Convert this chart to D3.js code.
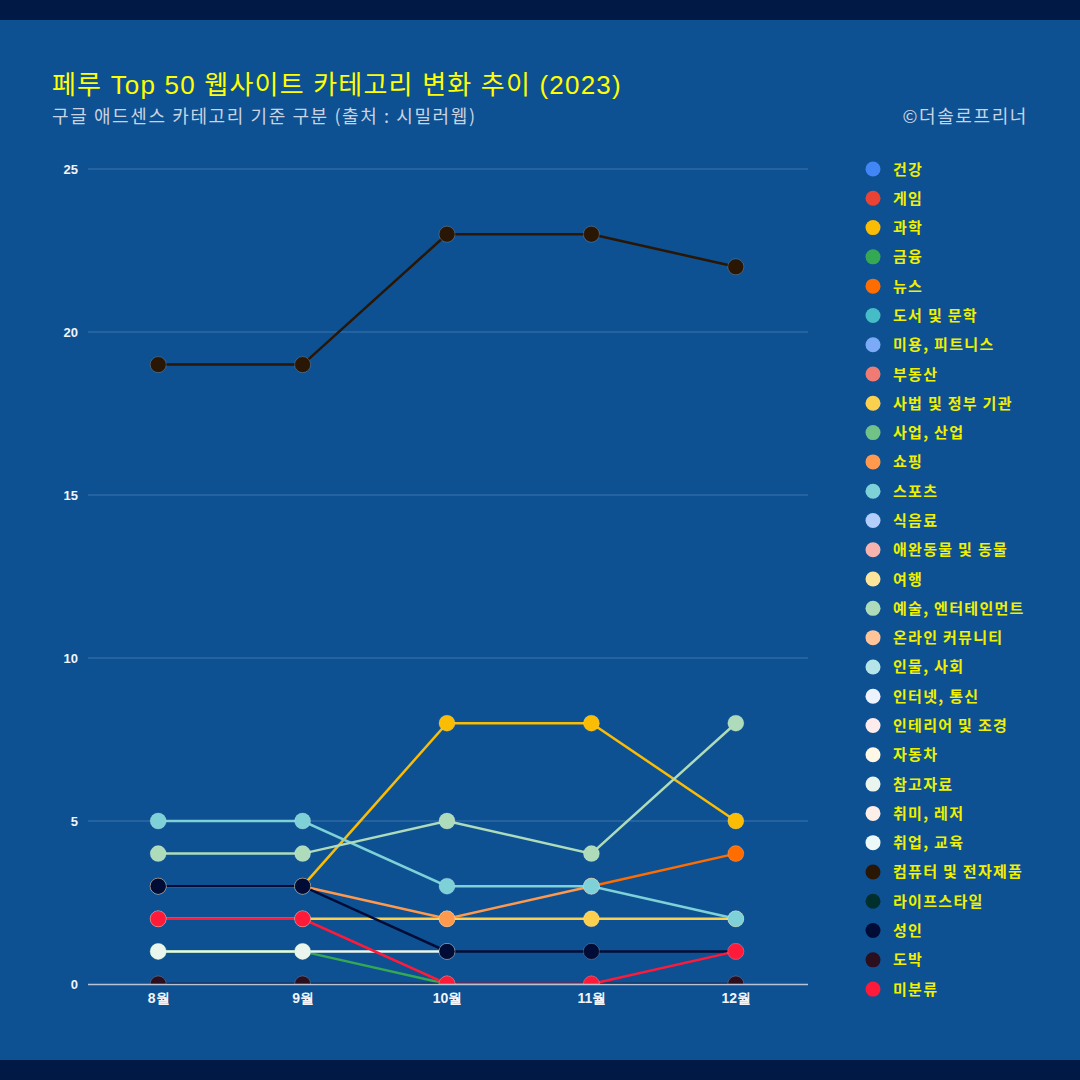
<!DOCTYPE html>
<html>
<head>
    <meta charset="utf-8">
    <script src="https://d3js.org/d3.v7.min.js"></script>
    <title>페루 Top 50 웹사이트 카테고리 변화 추이 (2023)</title>
    <style>
        body { margin: 0; background: #0d5192; }
        svg { display: block; font-family: "Noto Sans CJK KR", "Noto Sans", sans-serif; }
    </style>
</head>
<body>
    <svg id="plot" width="1080" height="1080"></svg>
    <script>
        // data
        const months = ["8월", "9월", "10월", "11월", "12월"];
        const categories = ["건강", "게임", "과학", "금융", "뉴스", "도서 및 문학", "미용, 피트니스", "부동산",
            "사법 및 정부 기관", "사업, 산업", "쇼핑", "스포츠", "식음료", "애완동물 및 동물", "여행",
            "예술, 엔터테인먼트", "온라인 커뮤니티", "인물, 사회", "인터넷, 통신", "인테리어 및 조경", "자동차",
            "참고자료", "취미, 레저", "취업, 교육", "컴퓨터 및 전자제품", "라이프스타일", "성인", "도박", "미분류"];
        const colors = ["#4285f4", "#ea4335", "#fbbc04", "#34a853", "#ff6d01", "#46bdc6", "#7baaf7", "#f07b72",
            "#fcd04f", "#71c287", "#ff994d", "#7ed1d7", "#b3cefb", "#f7b4ae", "#fde49b",
            "#aedcba", "#ffc599", "#b5e5e8", "#ecf3fe", "#fdeceb", "#fff8e6",
            "#eaf6ed", "#fdeee8", "#edf8f9", "#2a1604", "#00302e", "#000c36", "#2b0f1e", "#ff1a3a"];
        const values = {
            "과학":             [3, 3, 8, 8, 5],
            "금융":             [1, 1, 0, null, null],
            "뉴스":             [null, null, null, 3, 4],
            "사법 및 정부 기관": [2, 2, 2, 2, 2],
            "쇼핑":             [3, 3, 2, 3, null],
            "스포츠":           [5, 5, 3, 3, 2],
            "예술, 엔터테인먼트": [4, 4, 5, 4, 8],
            "참고자료":         [1, 1, 1, null, null],
            "컴퓨터 및 전자제품": [19, 19, 23, 23, 22],
            "성인":             [3, 3, 1, 1, 1],
            "도박":             [0, 0, 0, 0, 0],
            "미분류":           [2, 2, 0, 0, 1]
        };
        const yTicks = [0, 5, 10, 15, 20, 25];

        const svg = d3.select('svg#plot');
        const width = +svg.attr('width');
        const height = +svg.attr('height');

        // background and bands
        svg.append("rect").attr("width", width).attr("height", height).attr("fill", "#0d5192");
        svg.append("rect").attr("width", width).attr("height", 20).attr("fill", "#001a45");
        svg.append("rect").attr("y", 1060).attr("width", width).attr("height", 20).attr("fill", "#001a45");

        // titles
        svg.append("text").attr("x", 52).attr("y", 94)
            .attr("font-size", "26px").attr("fill", "#ffff00")
            .attr("letter-spacing", "1.2px")
            .attr("font-family", "'Liberation Sans', 'Noto Sans CJK KR', sans-serif")
            .text("페루 Top 50 웹사이트 카테고리 변화 추이 (2023)");
        svg.append("text").attr("x", 52).attr("y", 123)
            .attr("font-size", "18px").attr("fill", "#c9d3e3")
            .attr("letter-spacing", "1.6px")
            .text("구글 애드센스 카테고리 기준 구분 (출처 : 시밀러웹)");
        svg.append("text").attr("x", 1028).attr("y", 123)
            .attr("text-anchor", "end")
            .attr("font-size", "18px").attr("fill", "#c9d3e3")
            .attr("letter-spacing", "1.6px")
            .text("©더솔로프리너");

        const margin = {top: 169, left: 88, right: 808, bottom: 984};

        const x = d3.scalePoint().domain(months).range([margin.left - 2, margin.right]).padding(0.5);
        const y = d3.scaleLinear().domain([0, 25]).range([margin.bottom, margin.top]);

        // grid
        svg.append("g").selectAll("line").data(yTicks.filter(d => d > 0)).join("line")
            .attr("x1", margin.left).attr("x2", margin.right)
            .attr("y1", d => y(d)).attr("y2", d => y(d))
            .attr("stroke", "#3e76ad").attr("stroke-width", 1.2);

        // y axis labels
        const yAxis = svg.append("g").attr("transform", `translate(${margin.left},0)`)
            .call(d3.axisLeft(y).tickValues(yTicks).tickSize(0).tickPadding(10));
        yAxis.select(".domain").remove();
        yAxis.selectAll("text").attr("fill", "#f2f4f8").attr("font-size", "13px").attr("font-weight", "bold")
            .attr("font-family", "'Liberation Sans', sans-serif");

        // x axis labels
        const xAxis = svg.append("g").attr("transform", `translate(0,${margin.bottom})`)
            .call(d3.axisBottom(x).tickSize(0).tickPadding(9));
        xAxis.select(".domain").remove();
        xAxis.selectAll("text").attr("fill", "#f2f4f8").attr("font-size", "14px").attr("font-weight", "bold");

        // clip to the plot so zero points are cut in half
        svg.append("clipPath").attr("id", "clip").append("rect")
            .attr("x", 0).attr("y", 0).attr("width", width).attr("height", margin.bottom);

        const plot = svg.append("g").attr("clip-path", "url(#clip)");

        const series = categories.map((c, i) => ({
            name: c, color: colors[i],
            points: (values[c] || []).map((v, j) => ({month: months[j], value: v}))
        }));

        const line = d3.line()
            .defined(d => d.value !== null)
            .x(d => x(d.month)).y(d => y(d.value));

        series.forEach(s => {
            plot.append("path").datum(s.points)
                .attr("fill", "none").attr("stroke", s.color).attr("stroke-width", 2.5)
                .attr("d", line);
        });
        series.forEach(s => {
            plot.append("g").selectAll("circle").data(s.points.filter(d => d.value !== null)).join("circle")
                .attr("cx", d => x(d.month)).attr("cy", d => y(d.value)).attr("r", 8)
                .attr("fill", s.color).attr("stroke", "rgba(255,255,255,0.25)").attr("stroke-width", 0.8);
        });

        // baseline
        svg.append("line").attr("x1", margin.left).attr("x2", margin.right)
            .attr("y1", y(0) + 0.5).attr("y2", y(0) + 0.5)
            .attr("stroke", "#b8c4d6").attr("stroke-width", 1.5);

        // legend
        const legend = svg.append("g").selectAll("g").data(categories).join("g")
            .attr("transform", (d, i) => `translate(873,${169 + i * 29.29})`);
        legend.append("circle").attr("r", 7.5).attr("fill", (d, i) => colors[i]);
        legend.append("text").attr("x", 20).attr("y", 5.5)
            .attr("font-size", "15px").attr("font-weight", "bold").attr("fill", "#f0f000")
            .attr("letter-spacing", "1.3px")
            .text(d => d);
    </script>
</body>
</html>
